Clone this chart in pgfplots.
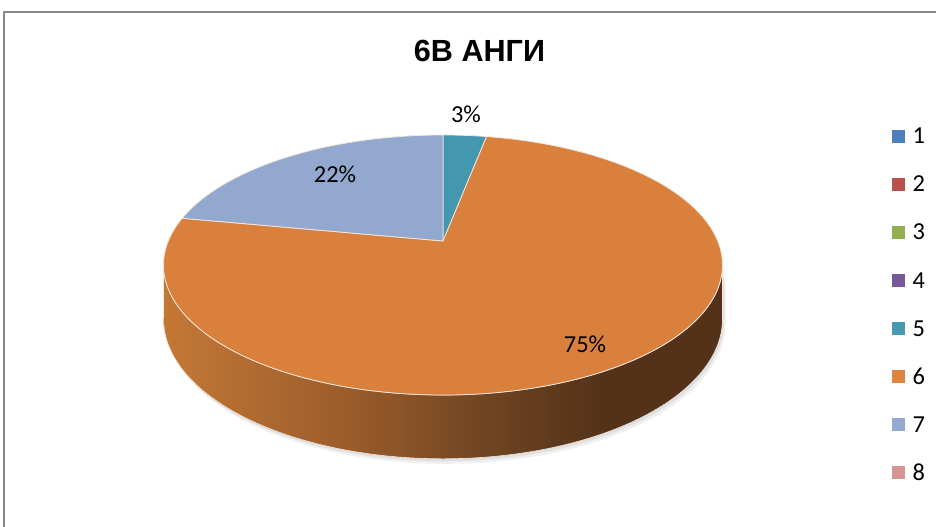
\documentclass[border=0pt]{standalone}
\usepackage{fontspec}
\usepackage{pgfplots}
\usepackage{pgfplotstable}
\pgfplotsset{compat=1.18}
\setmainfont{Carlito}
\newfontfamily\lib{Liberation Sans}

\definecolor{c1}{HTML}{4F7FBA}
\definecolor{c2}{HTML}{B9504C}
\definecolor{c3}{HTML}{93AE55}
\definecolor{c4}{HTML}{77599A}
\definecolor{c5}{HTML}{4699B0}
\definecolor{c6}{HTML}{DE843E}
\definecolor{c7}{HTML}{94A9D0}
\definecolor{c8}{HTML}{D59593}
\definecolor{topE}{HTML}{4397AE}
\definecolor{topF}{HTML}{D8803C}
\definecolor{topG}{HTML}{93A8CE}
\definecolor{edge}{HTML}{F2E6DC}
\definecolor{frame}{HTML}{888888}
\definecolor{sideA}{HTML}{C47835}
\definecolor{sideB}{HTML}{9A5C2B}
\definecolor{sideC}{HTML}{7A4A24}
\definecolor{sideD}{HTML}{5E3A1C}
\definecolor{sideE}{HTML}{54321A}
\pgfdeclarehorizontalshading{sideshade}{100bp}{color(0bp)=(sideA); color(25bp)=(sideA); color(41.7bp)=(sideB); color(50.8bp)=(sideC); color(59.8bp)=(sideD); color(64.3bp)=(sideE); color(100bp)=(sideE)}

\pgfplotstableread{
slice value
1 0
2 0
3 0
4 0
5 3
6 75
7 22
8 0
}\piedata

\pgfplotstablegetelem{4}{value}\of\piedata \edef\vE{\pgfplotsretval}
\pgfplotstablegetelem{5}{value}\of\piedata \edef\vF{\pgfplotsretval}
\pgfplotstablegetelem{6}{value}\of\piedata \edef\vG{\pgfplotsretval}
\pgfmathsetmacro\aE{3.6*\vE}
\pgfmathsetmacro\aF{\aE+3.6*\vF}
\pgfmathsetmacro\aG{\aF+3.6*\vG}

\begin{document}
\begin{tikzpicture}
\begin{axis}[
  at={(0,0)}, anchor=south west,
  width=936bp, height=527bp, scale only axis,
  xmin=0, xmax=936, ymin=0, ymax=527, y dir=reverse,
  hide axis, clip=false,
  declare function={
    px(\a)=443+274.7*sin(\a)/(1+0.1846*cos(\a));
    py(\a)=241-125.6*cos(\a)/(1+0.1846*cos(\a));
    pd(\a)=52/(1+0.1846*cos(\a));
    ph(\t)=100.6+158.8*min(\t,2-\t);
  },
  legend image code/.code={\fill[#1] (0bp,-6bp) rectangle (12bp,6bp);},
  legend style={at={(axis cs:892,128)}, anchor=north west, draw=none, fill=none,
    inner sep=0pt, font=\fontsize{24.5}{29}\selectfont, row sep=32.6bp, column sep=8bp,
    nodes={inner sep=0pt, text height=15.5bp, text depth=0pt}},
  legend cell align=left,
  legend entries={1,2,3,4,5,6,7,8},
]
% frame
\draw[frame, line width=1.3bp] (axis cs:4,540) -- (axis cs:4,12) -- (axis cs:950,12);
% shadow
\addplot[forget plot, fill=black!6, draw=none, domain=0:2, samples=301]
  ({px(ph(x))+3},{py(ph(x))+(x>1)*pd(ph(x))+5}) -- cycle;
\addplot[forget plot, fill=black!12, draw=none, domain=0:2, samples=301]
  ({px(ph(x))+1.5},{py(ph(x))+(x>1)*pd(ph(x))+2.5}) -- cycle;
% side
\addplot[forget plot, shade, shading=sideshade, draw=edge, line width=0.6bp, domain=0:2, samples=301]
  ({px(ph(x))},{py(ph(x))+(x>1)*pd(ph(x))}) -- cycle;
% top sectors
\addplot[forget plot, fill=topE, draw=edge, line width=0.8bp, domain=0:\aE, samples=12]
  ({px(x)},{py(x)}) -- (axis cs:443,241) -- cycle;
\addplot[forget plot, fill=topF, draw=edge, line width=0.8bp, domain=\aE:\aF, samples=200]
  ({px(x)},{py(x)}) -- (axis cs:443,241) -- cycle;
\addplot[forget plot, fill=topG, draw=edge, line width=0.8bp, domain=\aF:\aG, samples=60]
  ({px(x)},{py(x)}) -- (axis cs:443,241) -- cycle;
% legend images
\addlegendimage{c1}
\addlegendimage{c2}
\addlegendimage{c3}
\addlegendimage{c4}
\addlegendimage{c5}
\addlegendimage{c6}
\addlegendimage{c7}
\addlegendimage{c8}
% labels
\node[anchor=base, inner sep=0pt, font=\lib\bfseries\fontsize{30.7}{36}\selectfont] at (axis cs:479.5,62) {6В АНГИ};
\node[anchor=base, inner sep=0pt, font=\fontsize{24.5}{29}\selectfont] at (axis cs:466,122.7) {3\%};
\node[anchor=base, inner sep=0pt, font=\fontsize{24.5}{29}\selectfont] at (axis cs:335,182.3) {22\%};
\node[anchor=base, inner sep=0pt, font=\fontsize{24.5}{29}\selectfont] at (axis cs:585,352) {75\%};
\end{axis}
\pgfresetboundingbox
\path[use as bounding box] (0,0) rectangle (936bp,527bp);
\end{tikzpicture}
\end{document}
